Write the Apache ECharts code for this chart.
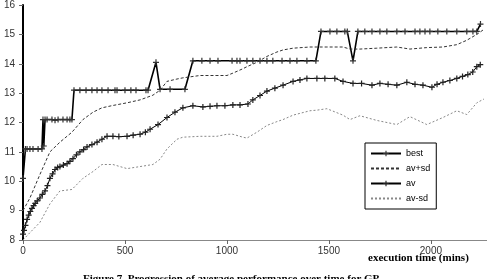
<!DOCTYPE html>
<html>
<head>
<meta charset="utf-8">
<script src="https://cdn.jsdelivr.net/npm/echarts@6/dist/echarts.min.js"></script>
<style>
  html, body { margin: 0; padding: 0; background: #fff; }
  #chart { width: 487px; height: 279px; }
</style>
</head>
<body>
<div id="chart"></div>
<script>
// data (minutes, fitness)
var bestTime = [0, 12, 20, 34, 49, 74, 93, 98, 102, 108, 118, 142, 157, 172, 196, 216, 230, 240,
  250, 279, 309, 338, 363, 387, 417, 451, 461, 500, 529, 554, 603, 613, 652, 672, 721, 794,
  833, 877, 917, 956, 1025, 1049, 1064, 1098, 1127, 1162, 1196, 1225, 1270, 1309, 1343, 1392, 1436,
  1461, 1505, 1539, 1578, 1590, 1618, 1642, 1676, 1711, 1750, 1784, 1833, 1873, 1922, 1946, 1971,
  1995, 2034, 2078, 2127, 2176, 2206, 2225, 2243];
var bestValue = [10.1, 11.1, 11.1, 11.1, 11.1, 11.1, 11.1, 12.1, 11.2, 12.1, 12.1, 12.1, 12.08, 12.1, 12.1, 12.1, 12.1, 12.1,
  13.1, 13.1, 13.1, 13.1, 13.1, 13.1, 13.1, 13.1, 13.1, 13.1, 13.1, 13.1, 13.1, 13.1, 14.05, 13.13, 13.13, 13.13,
  14.1, 14.1, 14.1, 14.1, 14.1, 14.1, 14.1, 14.1, 14.1, 14.1, 14.1, 14.1, 14.1, 14.1, 14.1, 14.1, 14.1,
  15.1, 15.1, 15.1, 15.1, 15.1, 14.1, 15.1, 15.1, 15.1, 15.1, 15.1, 15.1, 15.1, 15.1, 15.1, 15.1,
  15.1, 15.1, 15.1, 15.1, 15.1, 15.1, 15.1, 15.35];

var avTime = [0, 5, 12, 20, 28, 36, 44, 52, 60, 70, 83, 95, 108, 120, 132, 145, 157, 170, 181, 198,
  216, 230, 245, 262, 279, 297, 314, 338, 363, 387, 412, 441, 470, 510, 540, 574, 600, 623, 662, 706,
  745, 784, 833, 882, 917, 951, 990, 1029, 1064, 1103, 1127, 1162, 1196, 1235, 1275, 1324, 1358, 1392,
  1441, 1480, 1529, 1569, 1618, 1660, 1711, 1750, 1790, 1833, 1882, 1922, 1961, 2005, 2030, 2059,
  2093, 2127, 2155, 2181, 2205, 2225, 2242];
var avValue = [8.2, 8.33, 8.5, 8.7, 8.85, 8.97, 9.08, 9.17, 9.25, 9.33, 9.43, 9.55, 9.67, 9.85, 10.1, 10.25, 10.4, 10.47, 10.5, 10.55,
  10.6, 10.68, 10.77, 10.9, 11.0, 11.08, 11.17, 11.25, 11.33, 11.43, 11.53, 11.53, 11.52, 11.53, 11.57, 11.6, 11.67, 11.77, 11.93, 12.17,
  12.35, 12.5, 12.57, 12.53, 12.55, 12.57, 12.57, 12.6, 12.6, 12.63, 12.77, 12.92, 13.07, 13.17, 13.27, 13.4, 13.45, 13.5,
  13.5, 13.5, 13.5, 13.4, 13.33, 13.33, 13.27, 13.33, 13.3, 13.27, 13.37, 13.3, 13.27, 13.2, 13.3, 13.37,
  13.43, 13.5, 13.57, 13.63, 13.72, 13.9, 13.97];

var sdTime = [0, 34, 83, 132, 181, 240, 294, 343, 387, 441, 510, 574, 637, 672, 706, 755, 784, 868, 951, 1000,
  1029, 1078, 1098, 1147, 1196, 1245, 1275, 1324, 1407, 1441, 1490, 1569, 1603, 1652, 1735, 1833, 1897, 1980,
  2059, 2127, 2176, 2225, 2260];
var avPlusSd = [9.0, 9.43, 10.23, 11.0, 11.33, 11.67, 12.1, 12.35, 12.5, 12.58, 12.67, 12.77, 12.93, 13.1, 13.4, 13.48, 13.52, 13.6, 13.6, 13.6,
  13.68, 13.83, 13.9, 14.05, 14.25, 14.4, 14.47, 14.53, 14.57, 14.57, 14.57, 14.57, 14.5, 14.5, 14.53, 14.57, 14.5, 14.55,
  14.57, 14.65, 14.8, 15.0, 15.17];
var avMinusSd = [8.0, 8.25, 8.6, 9.23, 9.67, 9.72, 10.1, 10.33, 10.57, 10.57, 10.43, 10.5, 10.57, 10.75, 11.1, 11.43, 11.5, 11.53, 11.53, 11.6,
  11.6, 11.5, 11.47, 11.67, 11.9, 12.03, 12.1, 12.25, 12.4, 12.42, 12.47, 12.25, 12.1, 12.23, 12.07, 11.93, 12.2, 11.93,
  12.17, 12.4, 12.27, 12.67, 12.8];

var seriesNames = ['best', 'av+sd', 'av', 'av-sd'];

function pairs(xs, ys) {
  var out = [];
  for (var i = 0; i < xs.length; i++) out.push([xs[i], ys[i]]);
  return out;
}

var plus = 'path://M4,0h2v10h-2zM0,4h10v2h-10z';

var chart = echarts.init(document.getElementById('chart'));
var option = {
  animation: false,
  grid: { left: 23, right: 0, top: 0, bottom: 39, containLabel: false },
  xAxis: {
    type: 'value', min: 0, max: 2275, interval: 500,
    axisLine: { lineStyle: { color: '#888', width: 1 } },
    axisTick: { show: true, length: 4, lineStyle: { color: '#666' } },
    axisLabel: { margin: 6, fontSize: 10, fontFamily: 'Liberation Sans', color: '#333',
      showMaxLabel: false, formatter: function (v) { return String(v); } },
    splitLine: { show: false }
  },
  yAxis: {
    type: 'value', min: 8, max: 16, interval: 1,
    axisLine: { show: true, lineStyle: { color: '#000', width: 2 } },
    axisTick: { show: true, length: 4, lineStyle: { color: '#666' } },
    axisLabel: { margin: 8, fontSize: 10, fontFamily: 'Liberation Sans', color: '#333' },
    splitLine: { show: false }
  },
  legend: {
    orient: 'vertical', left: 365, top: 143,
    backgroundColor: '#fff', borderColor: '#000', borderWidth: 1, borderRadius: 0,
    padding: [6, 6, 6, 5], itemWidth: 30, itemHeight: 7, itemGap: 6,
    textStyle: { fontSize: 9, fontFamily: 'Liberation Sans', color: '#000' },
    data: [
      { name: seriesNames[0] },
      { name: seriesNames[1], itemStyle: { opacity: 0 } },
      { name: seriesNames[2] },
      { name: seriesNames[3], itemStyle: { opacity: 0 } }
    ]
  },
  graphic: [
    { type: 'text', left: 368, top: 253,
      style: { text: 'execution time (mins)', font: 'bold 11px "Liberation Serif"', fill: '#000' } },
    { type: 'text', left: 83, top: 274,
      style: { text: 'Figure 7. Progression of average performance over time for GP', font: 'bold 11px "Liberation Serif"', fill: '#000' } }
  ],
  series: [
    { name: 'best', type: 'line', data: pairs(bestTime, bestValue),
      symbol: plus, symbolSize: 6, showSymbol: true,
      lineStyle: { color: '#000', width: 1.6 },
      itemStyle: { color: '#333', borderWidth: 0 } },
    { name: 'av+sd', type: 'line', data: pairs(sdTime, avPlusSd),
      symbol: 'none',
      lineStyle: { color: '#333', width: 1, type: [3, 2] },
      itemStyle: { color: '#333' } },
    { name: 'av', type: 'line', data: pairs(avTime, avValue),
      symbol: plus, symbolSize: 6, showSymbol: true,
      lineStyle: { color: '#000', width: 1 },
      itemStyle: { color: '#222', borderWidth: 0 } },
    { name: 'av-sd', type: 'line', data: pairs(sdTime, avMinusSd),
      symbol: 'none',
      lineStyle: { color: '#888', width: 1, type: [2, 2] },
      itemStyle: { color: '#888' } }
  ]
};
chart.setOption(option);
</script>
</body>
</html>
